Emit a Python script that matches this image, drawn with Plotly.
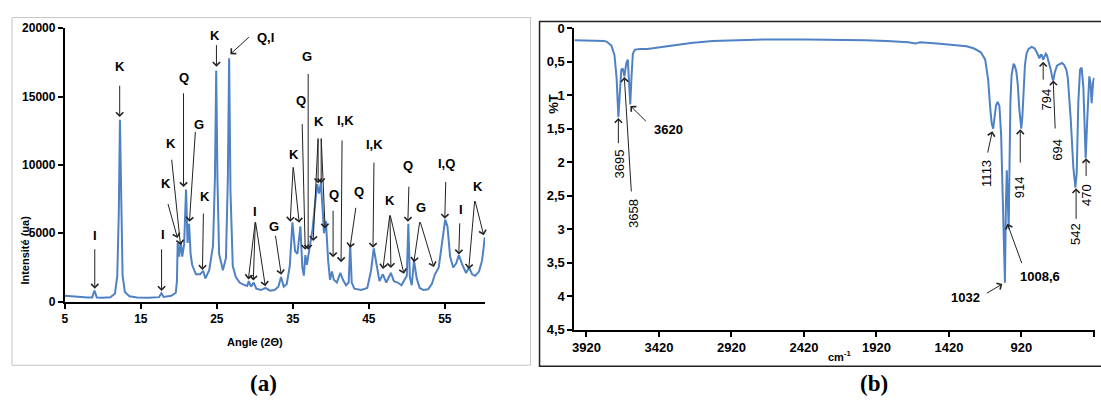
import plotly.graph_objects as go

W, H = 1101, 405

# ---------------- (a) XRD pattern ----------------
xrd_angle = [5.0, 6.0, 7.0, 8.0, 8.6, 8.9, 9.2, 10.0, 11.0, 11.6,
             11.9, 12.1, 12.25, 12.4, 12.6, 12.9, 13.5, 14.5, 16.0, 17.4,
             17.7, 18.0, 19.0, 19.6, 19.75, 19.85, 20.05, 20.25, 20.45, 20.7,
             20.95, 21.15, 21.35, 21.55, 21.75, 22.25, 22.8, 23.2, 23.5, 24.0,
             24.5, 24.75, 24.92, 25.08, 25.3, 25.8, 26.2, 26.45, 26.62, 26.8,
             27.1, 27.5, 28.0, 28.5, 29.0, 29.2, 29.5, 29.85, 30.2, 30.8,
             31.4, 32.0, 32.6, 33.1, 33.45, 33.8, 34.2, 34.6, 34.95, 35.3,
             35.6, 36.0, 36.25, 36.45, 36.65, 36.85, 37.1, 37.35, 37.6, 37.9,
             38.2, 38.45, 38.7, 38.95, 39.1, 39.35, 39.65, 39.9, 40.15, 40.4,
             40.8, 41.25, 41.6, 42.0, 42.35, 42.55, 42.75, 43.1, 44.0, 44.8,
             45.3, 45.65, 46.0, 46.4, 46.85, 47.3, 47.9, 48.3, 48.8, 49.3,
             49.7, 50.0, 50.2, 50.4, 50.65, 50.95, 51.3, 51.7, 52.2, 52.8,
             53.3, 53.7, 54.2, 54.7, 55.05, 55.35, 55.7, 56.1, 56.5, 56.85,
             57.3, 57.8, 58.2, 58.6, 59.0, 59.5, 59.9, 60.1, 60.25]
xrd_intensity = [430, 380, 330, 300, 310, 820, 310, 290, 330, 600,
                 1900, 6500, 13300, 6500, 1900, 700, 400, 300, 280, 330,
                 620, 340, 430, 650, 1500, 4300, 3300, 4400, 3300, 4200,
                 8200, 4300, 5700, 3500, 2700, 2000, 2000, 2250, 1700, 2300,
                 4100, 9000, 16900, 9000, 3500, 2300, 3200, 9000, 17800, 8000,
                 2600, 1800, 1400, 1250, 1150, 1500, 1100, 1400, 950, 850,
                 1000, 800, 850, 1100, 1800, 1100, 1300, 2600, 5800, 3700,
                 3500, 5500, 2500, 1900, 3400, 2700, 3500, 4200, 5300, 7000,
                 8600, 7900, 8700, 6500, 5000, 5900, 3000, 1600, 2200, 1600,
                 1400, 2100, 1600, 1200, 1400, 4200, 1400, 950, 850, 1000,
                 2300, 3900, 2700, 1500, 2000, 1400, 2100, 1500, 1400, 1200,
                 1600, 1900, 5700, 1800, 1200, 3000, 1700, 1000, 850, 900,
                 1300, 2000, 2500, 4400, 6000, 5500, 3300, 2500, 2800, 3400,
                 2700, 2100, 2500, 2000, 1900, 2200, 3000, 3900, 4700]

xrd_xticks = [5, 15, 25, 35, 45, 55]
xrd_yticks = [0, 5000, 10000, 15000, 20000]

# phase labels: text, angle, intensity
xrd_labels = [("I", 8.94, 4860), ("K", 12.22, 17180), ("I", 17.86, 4930),
              ("K", 18.25, 8660), ("K", 18.91, 11550), ("Q", 20.62, 16410),
              ("G", 22.59, 12960), ("K", 23.5, 7680), ("K", 24.82, 19500),
              ("Q,I", 31.38, 19300), ("I", 30.07, 6620), ("G", 32.56, 5490),
              ("K", 35.18, 10770), ("Q", 36.1, 14720), ("G", 36.89, 17960),
              ("K", 38.46, 13170), ("Q", 40.43, 7820), ("I,K", 41.88, 13240),
              ("Q", 43.71, 8030), ("I,K", 45.81, 11480), ("K", 47.78, 7390),
              ("Q", 50.14, 9930), ("G", 51.85, 6900), ("I,Q", 55.26, 10140),
              ("I", 57.1, 6760), ("K", 59.33, 8450)]
# arrows: tail angle, tail int, tip angle, tip int
xrd_arrows = [(8.94, 3940, 8.94, 950), (12.22, 15900, 12.22, 13500),
              (17.73, 3940, 17.73, 780), (18.52, 7250, 19.83, 4650),
              (19.04, 10490, 20.22, 4150), (20.62, 15350, 20.62, 8380),
              (22.19, 12530, 21.40, 5840), (23.24, 6550, 23.11, 2320),
              (24.95, 18870, 24.95, 17180), (29.41, 19440, 26.78, 18100),
              (30.07, 5920, 29.15, 1620), (30.07, 5920, 29.8, 1550),
              (30.07, 5920, 31.38, 1130), (32.69, 4930, 33.48, 1970),
              (35.05, 9930, 34.66, 5840), (35.05, 9930, 35.84, 5770),
              (36.23, 13100, 36.63, 3800), (37.02, 16760, 37.02, 3800),
              (38.33, 12040, 37.68, 4440), (38.33, 12040, 38.33, 8660),
              (38.73, 12040, 38.73, 8660), (38.73, 12040, 39.25, 5350),
              (40.3, 6760, 40.3, 3240), (41.48, 11900, 41.35, 2890),
              (43.32, 6970, 42.53, 3940), (45.68, 10280, 45.55, 3940),
              (47.78, 6410, 46.86, 2390), (47.78, 6410, 47.91, 2460),
              (47.78, 6410, 49.62, 2040), (50.28, 8520, 50.14, 5840),
              (51.72, 5920, 50.93, 2890), (51.72, 5920, 53.56, 2530),
              (55.13, 8870, 55.0, 6060), (56.97, 5840, 56.84, 3450),
              (58.94, 7460, 58.15, 2390), (58.94, 7460, 60.12, 4860)]

# ---------------- (b) IR spectrum ----------------
ir_wavenumber = [4003, 3900, 3800, 3782, 3748, 3727, 3712, 3700, 3690, 3680,
                 3670, 3663, 3658, 3652, 3645, 3635, 3628, 3618, 3610, 3600,
                 3585, 3550, 3500, 3450, 3400, 3300, 3200, 3050, 2900, 2700,
                 2400, 2200, 2000, 1850, 1700, 1650, 1620, 1500, 1390, 1300,
                 1250, 1200, 1170, 1150, 1135, 1125, 1115, 1105, 1095, 1084,
                 1072, 1060, 1050, 1040, 1034, 1027, 1021, 1014, 1008, 1002,
                 996, 988, 980, 974, 966, 955, 945, 935, 921, 913,
                 905, 896, 885, 871, 850, 830, 814, 804, 796, 788,
                 780, 770, 764, 752, 745, 735, 720, 705, 700, 690,
                 675, 660, 640, 625, 610, 600, 590, 580, 562, 548,
                 539, 528, 516, 505, 493, 482, 477, 466, 452, 443,
                 436, 425, 418]
ir_transmittance = [0.18, 0.18, 0.19, 0.20, 0.26, 0.40, 0.75, 1.33, 0.95, 0.62,
                    0.60, 0.66, 0.72, 0.62, 0.52, 0.47, 0.70, 1.14, 0.75, 0.38,
                    0.32, 0.31, 0.31, 0.30, 0.28, 0.25, 0.22, 0.19, 0.18, 0.17,
                    0.17, 0.17, 0.18, 0.19, 0.21, 0.23, 0.21, 0.23, 0.25, 0.27,
                    0.30, 0.36, 0.47, 0.76, 1.20, 1.42, 1.50, 1.33, 1.15, 1.10,
                    1.16, 1.60, 2.50, 3.30, 3.80, 2.60, 2.12, 2.60, 3.00, 2.00,
                    1.10, 0.70, 0.56, 0.53, 0.56, 0.65, 0.85, 1.20, 1.50, 1.30,
                    0.95, 0.55, 0.38, 0.31, 0.28, 0.30, 0.36, 0.42, 0.45, 0.40,
                    0.40, 0.47, 0.44, 0.38, 0.40, 0.47, 0.60, 0.76, 0.78, 0.66,
                    0.56, 0.54, 0.52, 0.55, 0.62, 0.75, 1.05, 1.36, 2.08, 2.38,
                    2.17, 1.12, 0.62, 0.59, 0.88, 1.70, 1.94, 1.36, 0.72, 0.83,
                    1.12, 0.79, 0.74]

ir_xticks = [3920, 3420, 2920, 2420, 1920, 1420, 920, 420]
ir_yticks = [0, 0.5, 1, 1.5, 2, 2.5, 3, 3.5, 4, 4.5]
ir_yticktext = ["0", "0,5", "1", "1,5", "2", "2,5", "3", "3,5", "4", "4,5"]

# band labels: text, wavenumber, T, angle, bold
ir_labels = [("3695", 3693, 2.03, -90, False), ("3658", 3597, 2.77, -90, False),
             ("3620", 3356, 1.52, 0, True), ("1113", 1162, 2.17, -90, False),
             ("1032", 1306, 4.02, 0, True), ("1008,6", 790, 3.71, 0, True),
             ("914", 928, 2.37, -90, False), ("794", 749, 1.06, -90, False),
             ("694", 673, 1.81, -90, False), ("542", 543, 3.07, -90, False),
             ("470", 467, 2.49, -90, False)]
ir_arrows = [(3700, 1.74, 3700, 1.34), (3610, 2.46, 3659, 0.73),
             (3500, 1.41, 3617, 1.16), (1155, 1.88, 1121, 1.54),
             (1169, 3.97, 1052, 3.82), (914, 3.53, 1017, 2.92),
             (928, 2.03, 928, 1.51), (770, 0.79, 770, 0.50),
             (687, 1.52, 701, 0.78), (543, 2.87, 543, 2.39),
             (474, 2.23, 474, 1.94)]

LINE = "#4f81c5"
FONT = "Arial, Liberation Sans, sans-serif"

fig = go.Figure()
fig.add_trace(go.Scatter(x=xrd_angle, y=xrd_intensity, mode="lines",
                         line=dict(color=LINE, width=2), xaxis="x", yaxis="y",
                         showlegend=False, hoverinfo="skip"))
fig.add_trace(go.Scatter(x=ir_wavenumber, y=ir_transmittance, mode="lines",
                         line=dict(color=LINE, width=2), xaxis="x2", yaxis="y2",
                         showlegend=False, hoverinfo="skip"))

def px(v):
    return v / W

def py(v):
    return 1 - v / H

C = dict(xanchor="center", yanchor="middle")

ann = []
for t, x, y in xrd_labels:
    ann.append(dict(text=t, x=x, y=y, xref="x", yref="y", showarrow=False, **C,
                    font=dict(family=FONT, size=13, color="black", weight="bold")))
for ax, ay, x, y in xrd_arrows:
    ann.append(dict(text="", x=x, y=y, ax=ax, ay=ay, xref="x", yref="y",
                    axref="x", ayref="y", showarrow=True, arrowhead=4,
                    arrowsize=1.4, arrowwidth=1, arrowcolor="#222"))
for t, x, y, ang, b in ir_labels:
    ann.append(dict(text=t, x=x, y=y, xref="x2", yref="y2", showarrow=False,
                    textangle=ang, **C,
                    font=dict(family=FONT, size=13, color="black",
                              weight="bold" if b else "normal")))
for ax, ay, x, y in ir_arrows:
    ann.append(dict(text="", x=x, y=y, ax=ax, ay=ay, xref="x2", yref="y2",
                    axref="x2", ayref="y2", showarrow=True, arrowhead=4,
                    arrowsize=1.4, arrowwidth=1, arrowcolor="#222"))

# axis titles and panel captions
ann += [
    dict(text="Intensité (ua)", x=px(22), y=py(252), xref="paper", yref="paper",
         showarrow=False, textangle=-90, **C,
         font=dict(family=FONT, size=11, color="black", weight="bold")),
    dict(text="Angle (2Θ)", x=px(253), y=py(348), xref="paper", yref="paper",
         showarrow=False, **C,
         font=dict(family=FONT, size=11, color="black", weight="bold")),
    dict(text="%T", x=px(552), y=py(100), xref="paper", yref="paper",
         showarrow=False, textangle=-90, **C,
         font=dict(family=FONT, size=13, color="black", weight="bold")),
    dict(text="cm<sup>-1</sup>", x=px(839), y=py(362), xref="paper", yref="paper",
         showarrow=False, **C,
         font=dict(family=FONT, size=11, color="black", weight="bold")),
    dict(text="(a)", x=px(261), y=py(391), xref="paper", yref="paper",
         showarrow=False, **C,
         font=dict(family="Liberation Serif, Times New Roman, serif", size=23,
                   color="black", weight="bold")),
    dict(text="(b)", x=px(873), y=py(391), xref="paper", yref="paper",
         showarrow=False, **C,
         font=dict(family="Liberation Serif, Times New Roman, serif", size=23,
                   color="black", weight="bold")),
]

shapes = [
    dict(type="rect", xref="paper", yref="paper", x0=px(9), x1=px(529),
         y0=py(372), y1=py(11), line=dict(color="#c4c4c4", width=1)),
    dict(type="rect", xref="paper", yref="paper", x0=px(538), x1=px(1110),
         y0=py(373), y1=py(15), line=dict(color="#222", width=1.5)),
]

tickfont_a = dict(family=FONT, size=12, color="black", weight="bold")
tickfont_b = dict(family=FONT, size=13, color="black", weight="bold")

fig.update_layout(
    width=W, height=H, margin=dict(l=0, r=0, t=0, b=0),
    paper_bgcolor="white", plot_bgcolor="rgba(0,0,0,0)",
    annotations=ann, shapes=shapes,
    xaxis=dict(domain=[px(62), px(483.4)], range=[5, 60.3], anchor="y",
               tickvals=xrd_xticks, showgrid=False, zeroline=False,
               showline=True, linecolor="black", linewidth=2,
               ticks="outside", ticklen=5, tickwidth=1.5, tickcolor="black",
               tickfont=tickfont_a),
    yaxis=dict(domain=[py(306), py(22)], range=[0, 20000], anchor="x",
               tickvals=xrd_yticks, tickformat="d", showgrid=False, zeroline=False,
               showline=True, linecolor="black", linewidth=2,
               ticks="outside", ticklen=5, tickwidth=1.5, tickcolor="black",
               tickfont=tickfont_a),
    xaxis2=dict(domain=[px(573), px(1094.5)], range=[4003, 416], anchor="y2",
                tickvals=ir_xticks, showgrid=False, zeroline=False,
                showline=True, linecolor="black", linewidth=2,
                ticks="outside", ticklen=5, tickwidth=1.5, tickcolor="black",
                tickfont=tickfont_b),
    yaxis2=dict(domain=[py(335), py(22)], range=[4.5, 0], anchor="x2",
                tickvals=ir_yticks, ticktext=ir_yticktext, showgrid=False,
                zeroline=False, showline=True, linecolor="black", linewidth=2,
                ticks="outside", ticklen=5, tickwidth=1.5, tickcolor="black",
                tickfont=tickfont_b),
)

fig.write_html("out.html")
